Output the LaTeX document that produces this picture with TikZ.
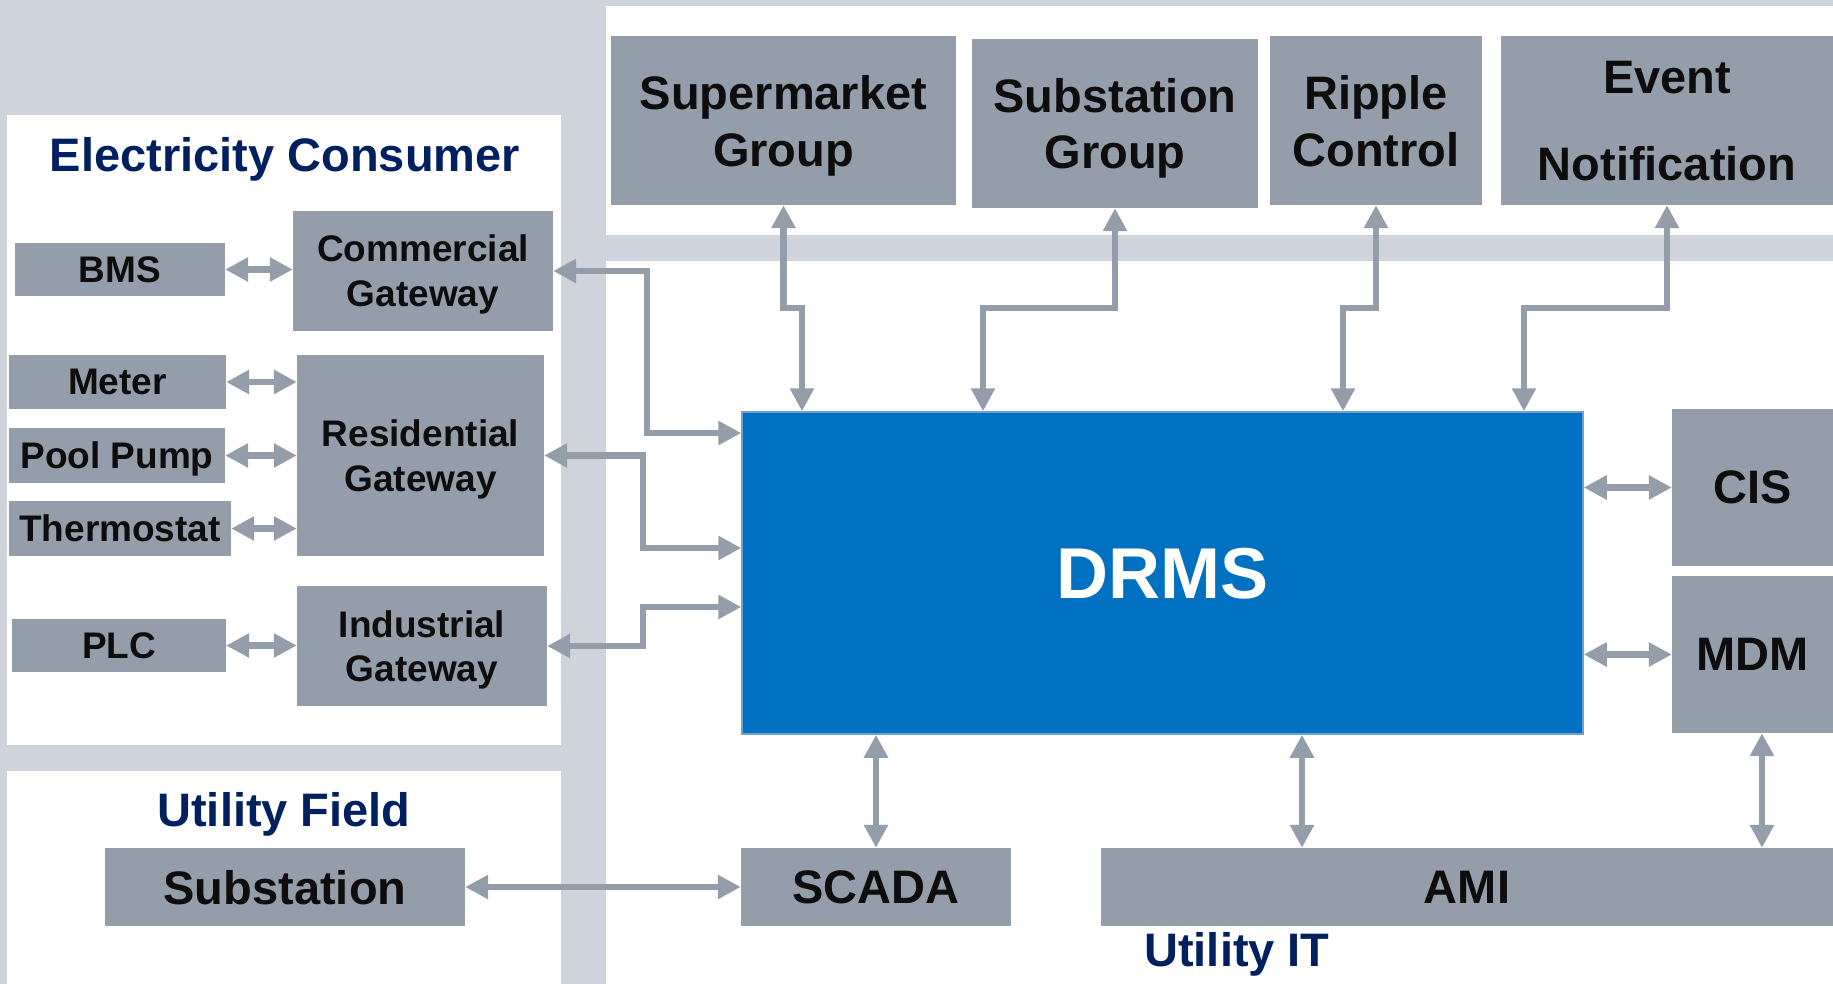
\documentclass[tikz,border=0pt]{standalone}
\usepackage{fontspec}
\setmainfont{Liberation Sans}
\usetikzlibrary{arrows.meta}
\definecolor{bg}{RGB}{207,211,220}
\definecolor{boxg}{RGB}{148,158,171}
\definecolor{drmsb}{RGB}{0,112,192}
\definecolor{drmse}{RGB}{110,160,215}
\definecolor{navy}{RGB}{0,32,96}
\definecolor{txt}{RGB}{13,13,13}
\newcommand\twol[3]{\vbox{\baselineskip=#1\lineskiplimit=-1000pt\lineskip=0pt\halign{\hfil##\hfil\cr#2\cr#3\cr}}}
\tikzset{
  box/.style={fill=boxg, inner sep=0pt, text depth=0pt, text=txt, font=\bfseries\fontsize{37}{44}\selectfont},
  bigbox/.style={box, font=\bfseries\fontsize{47}{57}\selectfont},
  ttl/.style={inner sep=0pt, anchor=base, text=navy, font=\bfseries\fontsize{47}{57}\selectfont},
  conn/.style={draw=boxg, line width=6.5pt, {Triangle[length=23pt,width=23pt]}-{Triangle[length=23pt,width=23pt]}},
  panel/.style={fill=white, draw=none}
}
\begin{document}
\begin{tikzpicture}[x=1pt,y=-1pt]
\useasboundingbox (0,0) rectangle (1833,984);
\fill[bg] (0,0) rectangle (1833,984);
% white panels
\fill[white] (7,115) rectangle (561,745);
\fill[white] (7,771) rectangle (561,984);
\fill[white] (606,6) rectangle (1833,235);
\fill[white] (606,261) rectangle (1833,984);

% titles
\node[ttl] (ecT) at (285,172) {Electricity Consumer};
\node[ttl] (ufT) at (284,826.5) {Utility Field};
\node[ttl] (uitT) at (1237,966) {Utility IT};

% top boxes
\node[bigbox, minimum width=345pt, minimum height=169pt] (sm) at (783.5,120.5) {\twol{57pt}{Supermarket}{Group}};
\node[bigbox, minimum width=286pt, minimum height=169pt] (sg) at (1115,123.5) {\twol{56pt}{Substation}{Group}};
\node[bigbox, minimum width=212pt, minimum height=169pt] (rc) at (1376,120.5) {\twol{57pt}{Ripple}{Control}};
\node[bigbox, minimum width=332pt, minimum height=169pt] (en) at (1667,120.5) {\twol{87pt}{Event}{Notification}};

% DRMS
\node[fill=drmsb, draw=drmse, line width=1.5pt, inner sep=0pt, text depth=0pt, minimum width=841pt, minimum height=322pt, text=white, font=\bfseries\fontsize{72}{86}\selectfont] (drms) at (1162.5,573) {DRMS};

% right boxes
\node[bigbox, minimum width=161pt, minimum height=157pt] (cis) at (1752.5,487.5) {CIS};
\node[bigbox, minimum width=161pt, minimum height=157pt] (mdm) at (1752.5,654.5) {MDM};

% bottom boxes
\node[bigbox, minimum width=270pt, minimum height=78pt] (scada) at (876,887) {SCADA};
\node[bigbox, minimum width=732pt, minimum height=78pt] (ami) at (1467,887) {AMI};
\node[bigbox, minimum width=360pt, minimum height=78pt] (sub) at (285,887) {Substation};

% consumer boxes
\node[box, minimum width=210pt, minimum height=53pt] (bms) at (120,269.5) {BMS};
\node[box, minimum width=260pt, minimum height=120pt] (cg) at (423,271) {\twol{45pt}{Commercial}{Gateway}};
\node[box, minimum width=217pt, minimum height=54pt] (meter) at (117.5,382) {Meter};
\node[box, minimum width=247pt, minimum height=201pt] (rg) at (420.5,455.5) {\twol{45pt}{Residential}{Gateway}};
\node[box, minimum width=216pt, minimum height=55pt] (pool) at (117,455.5) {Pool Pump};
\node[box, minimum width=222pt, minimum height=55pt] (thermo) at (120,528.5) {Thermostat};
\node[box, minimum width=214pt, minimum height=53pt] (plc) at (119,645.5) {PLC};
\node[box, minimum width=250pt, minimum height=120pt] (ig) at (422,646) {\twol{44pt}{Industrial}{Gateway}};

% joints
\coordinate (j1) at (802,308);
\coordinate (j2) at (983,308);
\coordinate (j3) at (1343,308);
\coordinate (j4) at (1524,308);
\coordinate (j5) at (647,433);
\coordinate (j6) at (643,548);
\coordinate (j7) at (643,607);
\coordinate (xa) at (1302,800);
\coordinate (xm) at (1762,800);

% top connectors
\draw[conn] (sm.south) |- (j1) -- (j1 |- drms.north);
\draw[conn] (sg.south) |- (j2) -- (j2 |- drms.north);
\draw[conn] (rc.south) |- (j3) -- (j3 |- drms.north);
\draw[conn] (en.south) |- (j4) -- (j4 |- drms.north);

% left connectors
\draw[conn] (cg.east) -| (j5) -- (j5 -| drms.west);
\draw[conn] (rg.east) -| (j6) -- (j6 -| drms.west);
\draw[conn] (ig.east) -| (j7) -- (j7 -| drms.west);

% right connectors
\draw[conn] (drms.east |- cis.west) -- (cis.west);
\draw[conn] (drms.east |- mdm.west) -- (mdm.west);

% bottom connectors
\draw[conn] (scada.north |- drms.south) -- (scada.north);
\draw[conn] (xa |- drms.south) -- (xa |- ami.north);
\draw[conn] (xm |- mdm.south) -- (xm |- ami.north);
\draw[conn] (sub.east) -- (scada.west);

% leaf connectors
\draw[conn] (bms.east) -- (bms.east -| cg.west);
\draw[conn] (meter.east) -- (meter.east -| rg.west);
\draw[conn] (pool.east) -- (pool.east -| rg.west);
\draw[conn] (thermo.east) -- (thermo.east -| rg.west);
\draw[conn] (plc.east) -- (plc.east -| ig.west);
\end{tikzpicture}
\end{document}
